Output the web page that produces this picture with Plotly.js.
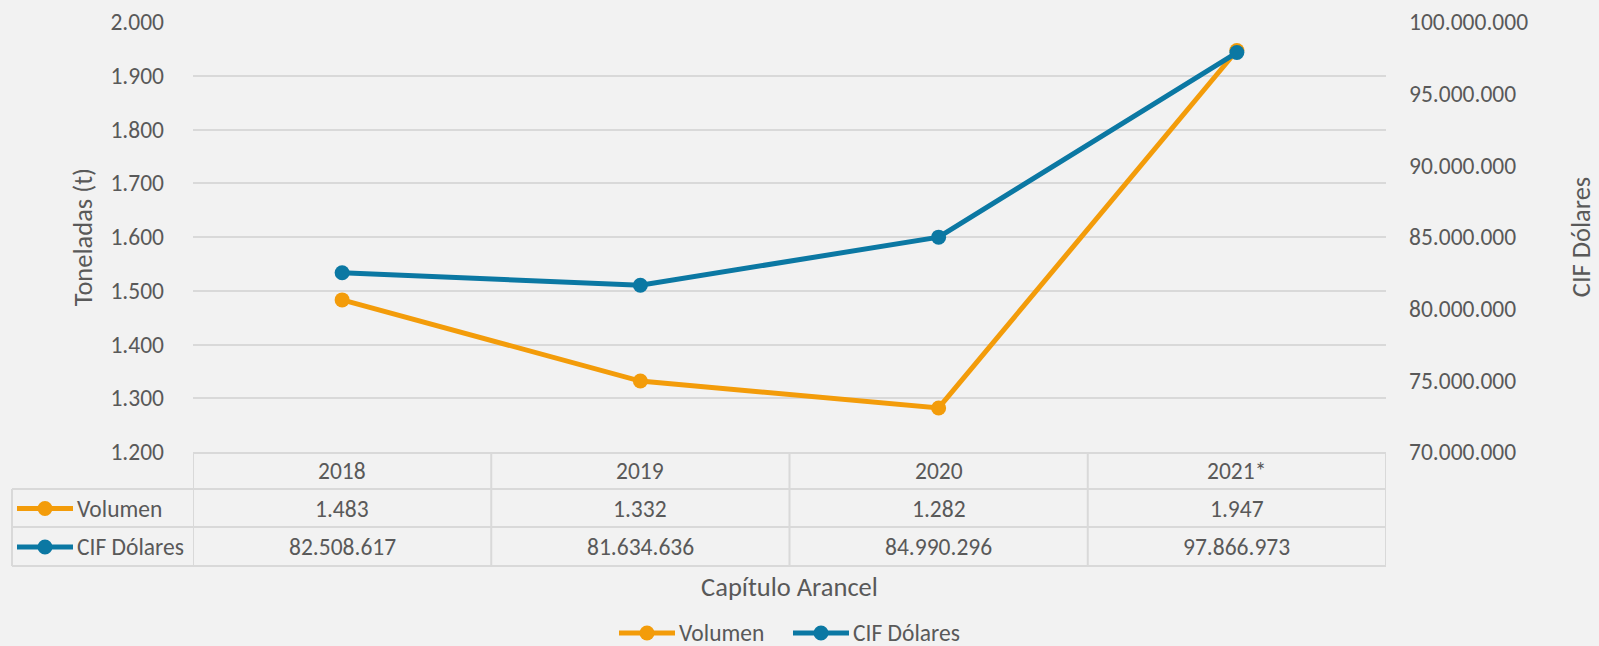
<!DOCTYPE html>
<html>
<head>
<meta charset="utf-8">
<script src="https://cdn.plot.ly/plotly-3.0.1.min.js"></script>
<style>html,body{margin:0;padding:0;background:#f2f2f2;}#chart{width:1599px;height:646px;}</style>
</head>
<body>
<div id="chart"></div>
<script>
const categories = ['2018', '2019', '2020', '2021*'];
const volumen = [1483, 1332, 1282, 1947];
const cifDolares = [82508617, 81634636, 84990296, 97866973];
const seriesNames = ['Volumen', 'CIF Dólares'];

const ORANGE = '#F39C0A';
const BLUE = '#0B78A3';
const TEXT = '#595959';
const GRID = '#D9D9D9';
const FONT = 'Carlito, Calibri, Lato, sans-serif';
const FS = 23.5;
const TFS = 26.5;

function fmt(n) { return String(n).replace(/\B(?=(\d{3})+(?!\d))/g, '.'); }

// pixel -> paper helpers (plot area 193..1386 x, 22..452 y)
const L = 193, R = 1386, T = 22, B = 452;
const px = p => (p - L) / (R - L);
const py = p => (B - p) / (B - T);

const traces = [
  {x: categories, y: volumen, name: seriesNames[0], type: 'scatter', mode: 'lines+markers',
   line: {color: ORANGE, width: 5}, marker: {color: ORANGE, size: 15}, yaxis: 'y', showlegend: false},
  {x: categories, y: cifDolares, name: seriesNames[1], type: 'scatter', mode: 'lines+markers',
   line: {color: BLUE, width: 5}, marker: {color: BLUE, size: 15}, yaxis: 'y2', showlegend: false}
];

const keyColors = [ORANGE, BLUE];
const rowY = [py(508.5), py(547)];
const rowLines = [489, 527, 566];
const shapes = [];
const annotations = [];
const lineStyle = {color: GRID, width: 2};
const txt = (size) => ({family: FONT, size: size, color: TEXT});

// table grid
rowLines.forEach(yy => shapes.push({type: 'line', xref: 'paper', yref: 'paper', x0: px(12), x1: 1, y0: py(yy), y1: py(yy), line: lineStyle}));
shapes.push({type: 'line', xref: 'paper', yref: 'paper', x0: px(12), x1: px(12), y0: py(489), y1: py(566), line: lineStyle});
for (let i = 0; i <= categories.length; i++) {
  shapes.push({type: 'line', xref: 'x', yref: 'paper', x0: i - 0.5, x1: i - 0.5, y0: 0, y1: py(566), line: lineStyle});
}

// legend key helper (line + dot)
function legendKey(x0p, x1p, yy, color) {
  shapes.push({type: 'line', xref: 'paper', yref: 'paper', x0: px(x0p), x1: px(x1p), y0: yy, y1: yy, line: {color: color, width: 5}});
  shapes.push({type: 'circle', xref: 'paper', yref: 'paper', xsizemode: 'pixel', ysizemode: 'pixel',
    xanchor: px((x0p + x1p) / 2), yanchor: yy, x0: -7.5, x1: 7.5, y0: -7.5, y1: 7.5, fillcolor: color, line: {width: 0}});
}

// header row: categories
categories.forEach((c, i) => {
  annotations.push({xref: 'x', yref: 'paper', x: i, y: py(471), xanchor: 'center', yanchor: 'middle',
    text: c, showarrow: false, font: txt(FS)});
});

// data rows
const seriesVals = [volumen, cifDolares];
seriesVals.forEach((vals, k) => {
  legendKey(17, 73, rowY[k], keyColors[k]);
  annotations.push({xref: 'paper', yref: 'paper', x: px(75), y: rowY[k], xanchor: 'left', yanchor: 'middle',
    text: seriesNames[k], showarrow: false, font: txt(FS)});
  vals.forEach((v, i) => {
    annotations.push({xref: 'x', yref: 'paper', x: i, y: rowY[k], xanchor: 'center', yanchor: 'middle',
      text: fmt(v), showarrow: false, font: txt(FS)});
  });
});

// bottom legend
const legY = py(633);
const legX = [[619, 675, 677], [793, 849, 851]];
seriesNames.forEach((n, k) => {
  legendKey(legX[k][0], legX[k][1], legY, keyColors[k]);
  annotations.push({xref: 'paper', yref: 'paper', x: px(legX[k][2]), y: legY, xanchor: 'left', yanchor: 'middle',
    text: n, showarrow: false, font: txt(FS)});
});

const layout = {
  width: 1599, height: 646,
  paper_bgcolor: '#f2f2f2', plot_bgcolor: '#f2f2f2',
  margin: {l: L, r: 1599 - R, t: T, b: 646 - B},
  separators: ',.',
  font: txt(FS),
  showlegend: false,
  xaxis: {type: 'category', range: [-0.5, categories.length - 0.5], showgrid: false, zeroline: false,
    showline: true, linecolor: GRID, linewidth: 2, ticks: '', showticklabels: false,
    title: {text: 'Capítulo Arancel', font: txt(TFS), standoff: 124}},
  yaxis: {range: [1200, 2000], dtick: 100, tickformat: ',d', showgrid: true, gridcolor: GRID, gridwidth: 2,
    zeroline: false, showline: false, ticks: '', ticklabelstandoff: 28,
    tickfont: txt(FS),
    title: {text: 'Toneladas (t)', font: txt(TFS), standoff: 10}},
  yaxis2: {range: [70000000, 100000000], dtick: 5000000, tickformat: ',d', overlaying: 'y', side: 'right',
    showgrid: false, zeroline: false, showline: false, ticks: '', ticklabelstandoff: 22,
    tickfont: txt(FS),
    title: {text: 'CIF Dólares', font: txt(TFS), standoff: 44}},
  shapes: shapes,
  annotations: annotations
};

Plotly.newPlot('chart', traces, layout, {displayModeBar: false, staticPlot: true});
</script>
</body>
</html>
